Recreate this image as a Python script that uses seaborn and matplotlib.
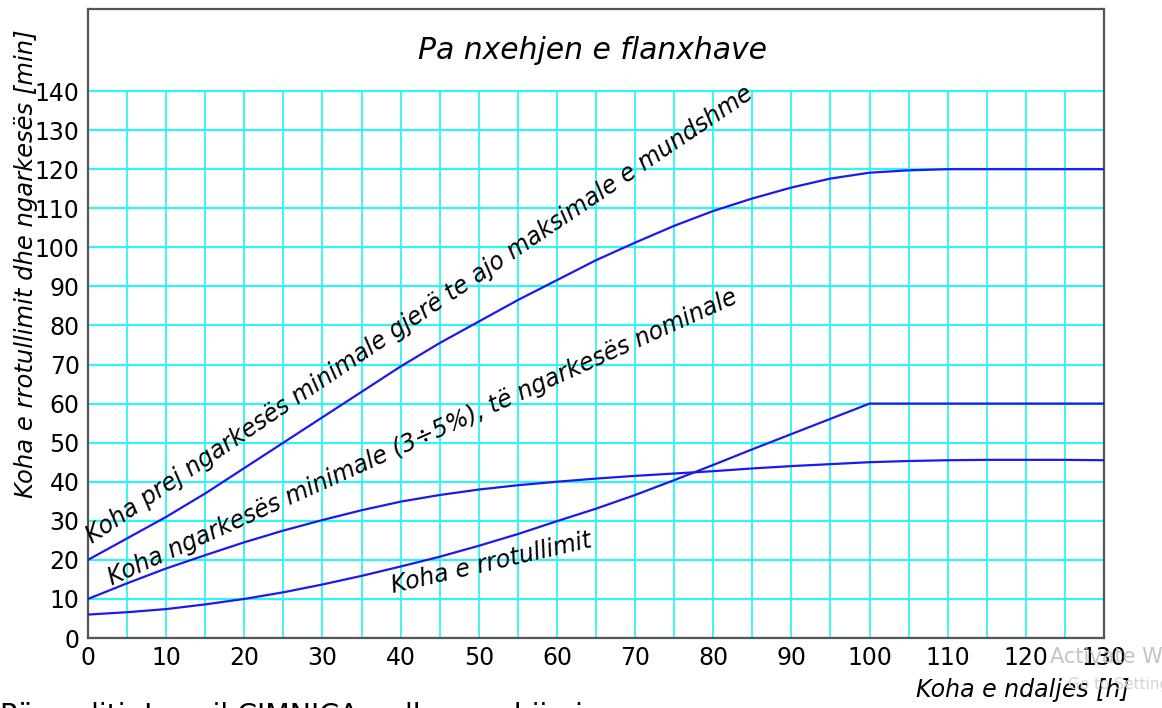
import numpy as np
import pandas as pd
import matplotlib
matplotlib.use("Agg")
import matplotlib.pyplot as plt
import seaborn as sns

# stop time [h]
koha_ndaljes = [0, 5, 10, 15, 20, 25, 30, 35, 40, 45, 50, 55, 60, 65,
                70, 75, 80, 85, 90, 95, 100, 105, 110, 115, 120, 125, 130]

# from minimal load up to max possible load [min]
koha_max = [20, 25.5, 31, 37, 43.5, 50, 56.5, 63, 69.5, 75.5, 81, 86.5, 91.6, 96.7,
            101.2, 105.5, 109.3, 112.5, 115.3, 117.6, 119.1, 119.7, 120, 120, 120, 120, 120]

# minimal load (3-5%) to nominal load [min]
koha_nominale = [10, 14, 17.8, 21.2, 24.5, 27.5, 30.2, 32.7, 34.9, 36.6, 38, 39.1, 40, 40.8,
                 41.5, 42.1, 42.7, 43.4, 44, 44.5, 45, 45.3, 45.5, 45.6, 45.6, 45.6, 45.5]

# rotation time [min]
koha_rrotullimit = [6, 6.6, 7.4, 8.6, 10, 11.7, 13.7, 15.9, 18.3, 20.8, 23.6, 26.6, 29.9, 33.1,
                    36.6, 40.4, 44.3, 48.3, 52.2, 56.1, 60, 60, 60, 60, 60, 60, 60]

y_ticks = list(range(0, 141, 10))
x_ticks = list(range(0, 131, 10))

df = pd.DataFrame({
    "x": koha_ndaljes * 3,
    "y": koha_max + koha_nominale + koha_rrotullimit,
    "seria": ["max"] * len(koha_ndaljes) + ["nom"] * len(koha_ndaljes) + ["rrot"] * len(koha_ndaljes),
})

sns.set_style("white")
plt.rcParams["font.family"] = ["DejaVu Sans"]
plt.rcParams["text.color"] = "black"
plt.rcParams["xtick.color"] = "black"
plt.rcParams["ytick.color"] = "black"

fig = plt.figure(figsize=(11.62, 7.08), dpi=100)
ax = fig.add_axes([88 / 1162, 1 - 638 / 708, (1104 - 88) / 1162, (638 - 9) / 708])

grid_col = "#30f4f4"
ax.hlines(y_ticks, 0, 130, color=grid_col, lw=1.6, zorder=1)
ax.vlines(list(range(0, 131, 5)), 0, 140, color=grid_col, lw=1.3, zorder=1)

sns.lineplot(data=df, x="x", y="y", units="seria", estimator=None,
             color="#1a1af0", lw=1.6, ax=ax, zorder=3, sort=False)

ax.set_xlim(0, 130)
ax.set_ylim(0, 161)
ax.set_xticks(x_ticks)
ax.set_yticks(y_ticks)
ax.set_xticklabels([str(v) for v in x_ticks], fontsize=17)
ax.set_yticklabels([str(v) for v in y_ticks], fontsize=17)
ax.tick_params(length=0, pad=6)
ax.set_xlabel("")
ax.set_ylabel("")
for s in ax.spines.values():
    s.set_color("#555555")
    s.set_linewidth(1.6)

ax.text(64.5, 150.5, "Pa nxehjen e flanxhave", fontsize=21.5, style="italic",
        ha="center", va="center")

lbl = dict(style="italic", fontsize=17, rotation_mode="anchor", ha="left", va="baseline")
ax.text(0.5, 24, "Koha prej ngarkesës minimale gjerë te ajo maksimale e mundshme",
        rotation=34, **lbl)
ax.text(3, 13.4, "Koha ngarkesës minimale (3÷5%), të ngarkesës nominale",
        rotation=24.3, **lbl)
ax.text(39, 11.5, "Koha e rrotullimit", rotation=13, **lbl)

fig.text(26 / 1162, 1 - 264 / 708, "Koha e rrotullimit dhe ngarkesës [min]",
         rotation=90, style="italic", fontsize=17.5, ha="center", va="center")
fig.text(1130 / 1162, 1 - 690 / 708, "Koha e ndaljes [h]",
         style="italic", fontsize=17, ha="right", va="center")
fig.text(0.0, 1 - 716 / 708, "Përgaditi: Ismail CIMNICA, udh. ngrohjimi",
         fontsize=20.5, ha="left", va="center")
fig.text(1050 / 1162, 1 - 657 / 708, "Activate Windows", color="#c4c4c4",
         fontsize=15, ha="left", va="center")
fig.text(1068 / 1162, 1 - 684 / 708, "Go to Settings", color="#d4d4d4",
         fontsize=11, ha="left", va="center")

fig.savefig("out.png", dpi=100)
